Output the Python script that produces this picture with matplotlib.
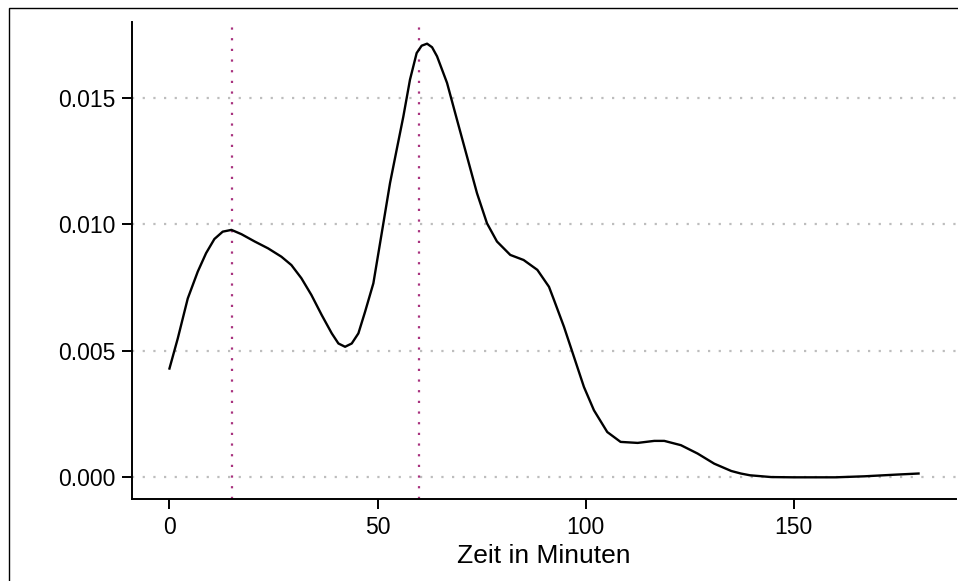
"""
Density of the time in minutes, with reference lines at 15 and 60 minutes.
"""

import matplotlib
matplotlib.use("Agg")
import matplotlib.pyplot as plt
from matplotlib.patches import Rectangle

plt.rcParams['font.family'] = ['Liberation Sans', 'DejaVu Sans']

# density curve
minutes = [0.0, 2.0, 4.4, 6.8, 8.8, 10.8, 12.8, 14.9, 17.3, 20.5, 23.7,
           26.9, 29.3, 31.7, 34.1, 36.6, 39.0, 40.6, 42.2, 43.8, 45.4,
           47.0, 49.0, 51.4, 53.0, 54.6, 56.2, 57.8, 59.4, 60.6, 61.9,
           63.1, 64.3, 66.7, 69.1, 71.5, 73.9, 76.3, 78.7, 81.9, 85.1,
           88.4, 91.2, 92.4, 94.8, 97.2, 99.6, 102.0, 105.2, 108.4, 112.5,
           116.5, 118.9, 122.9, 126.9, 130.9, 135.0, 137.3, 139.5, 144.6,
           150.0, 160.0, 167.0, 175.0, 180.0]
density = [0.00430, 0.00549, 0.00707, 0.00813, 0.00886, 0.00942, 0.00971,
           0.00978, 0.00961, 0.00932, 0.00905, 0.00872, 0.00839, 0.00787,
           0.00721, 0.00641, 0.00569, 0.00529, 0.00516, 0.00529, 0.00569,
           0.00654, 0.00767, 0.01004, 0.01163, 0.01295, 0.01426, 0.01572,
           0.01677, 0.01706, 0.01714, 0.01700, 0.01664, 0.01559, 0.01413,
           0.01268, 0.01123, 0.01004, 0.00932, 0.00879, 0.00859, 0.00820,
           0.00753, 0.00701, 0.00595, 0.00476, 0.00357, 0.00265, 0.00179,
           0.00140, 0.00136, 0.00144, 0.00144, 0.00127, 0.00094, 0.00054,
           0.00025, 0.00015, 0.00008, 0.00001, 0.00000, 0.00000, 0.00004,
           0.00011, 0.00015]

ref_lines = [15, 60]
x_ticks = [0, 50, 100, 150]
y_ticks = [0.000, 0.005, 0.010, 0.015]
y_labels = ["0.000", "0.005", "0.010", "0.015"]
x_title = "Zeit in Minuten"


def main():
    fig = plt.figure(figsize=(9.58, 5.81), dpi=100)
    ax = fig.add_axes([132 / 958, 1 - 499 / 581, 824 / 958, 477 / 581])

    # outer frame of the exported image (only left and top are visible)
    fig.patches.append(Rectangle((8.5 / 958, -0.2), 2.0, 1.2 - 7.5 / 581,
                                 transform=fig.transFigure, fill=False,
                                 edgecolor='black', linewidth=1.0,
                                 clip_on=False))

    for yv in y_ticks:
        ax.axhline(yv, color='#BDBDBD', linewidth=1.6,
                   dashes=(1, 3.8), zorder=1)

    for xv in ref_lines:
        ax.axvline(xv, color='#A8327E', linewidth=1.6,
                   dashes=(1, 3.8), zorder=2)

    ax.plot(minutes, density, color='black', linewidth=1.7, zorder=3,
            solid_joinstyle='round')

    yrange = max(density) - 0.0
    ax.set_xlim(-9, 189)
    ax.set_ylim(-0.05 * yrange, max(density) + 0.05 * yrange)

    ax.set_xticks(x_ticks)
    ax.set_yticks(y_ticks)
    ax.set_yticklabels(y_labels)
    ax.tick_params(axis='both', direction='out', length=7, width=1.4,
                   labelsize=16.5, color='black', labelcolor='black', pad=5)

    for side in ['top', 'right']:
        ax.spines[side].set_visible(False)
    for side in ['left', 'bottom']:
        ax.spines[side].set_linewidth(1.4)

    ax.set_xlabel(x_title, fontsize=19, labelpad=4)
    ax.set_ylabel("")

    fig.savefig('out.png', dpi=100)


if __name__ == "__main__":
    main()
